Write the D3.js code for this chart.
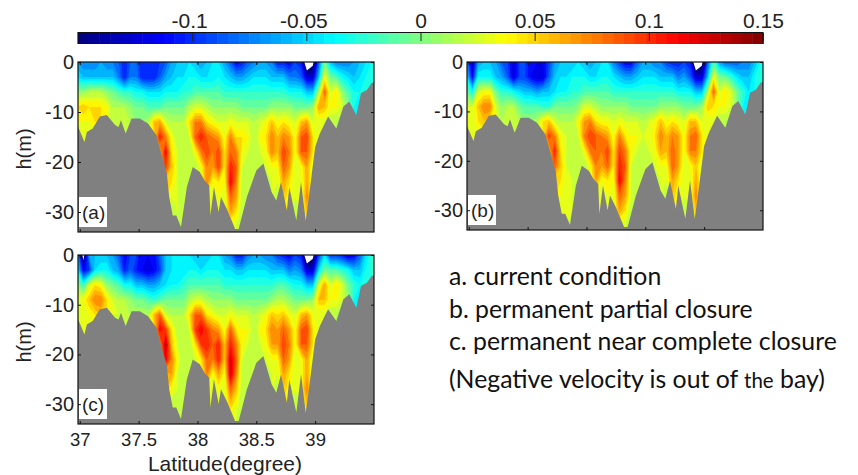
<!DOCTYPE html>
<html>
<head>
<meta charset="utf-8">
<script src="https://cdn.jsdelivr.net/npm/d3@7/dist/d3.min.js"></script>
<style>
  html, body { margin: 0; padding: 0; background: #fff; }
  svg { display: block; }
  text { font-family: "Liberation Sans", Arial, sans-serif; fill: #222; }
  .note { font-family: Lato, "Open Sans", sans-serif; fill: #111; }
</style>
</head>
<body>
<div id="chart"></div>
<script>
// depth of each row of the velocity columns (m)
const rowDepths = [0, -3, -6, -9, -12, -15, -18, -21, -24, -27, -30, -33];
// latitude of the first column and the column spacing (degree)
const firstLat = 36.98, latStep = 0.05;

// velocity in cm/s, one line per latitude column, surface first.
// short columns stop under the bed, where nothing shows.
const velA = [
  [-6,-4,1,5,4,3],[-7,-5,1,6,4,3],[-7,-5,2,5,4,3],[-7,-5,2,5,5,3],[-6,-5,2,5,5,3],
  [-7,-5,1,4,4,3],[-7,-5,0,2,2,2],[-8,-7,-1,2,3,2],[-10,-10,-2,2,3,2],[-8,-7,-2,1,2,2],
  [-8,-7,-3,0,1,2],[-10,-10,-3,0,1,2],[-10,-10,-4,-1,2,2],[-10,-10,-4,-1,6,5],[-9,-8,-4,-1,7,11,6],
  [-8,-6,-3,0,3,8,12,10,5],[-6,-5,-3,0,2,4,5,6,5,3,2],[-5,-4,-3,0,2,2,3,3,3,3,3,2],[-5,-4,-2,0,2,2,2,2,2,2,2,2],[-4,-3,-2,2,5,3,2,2,2],
  [-5,-3,-1,3,8,9,4,2,2],[-6,-4,-1,3,8,11,8,4,3],[-5,-4,-1,2,5,9,10,8,8,4],[-4,-4,-1,1,4,8,8,7,4,3,3],[-4,-3,-1,1,3,7,10,10,5,4,3],
  [-6,-4,-2,1,3,4,5,5,4,3,3],[-8,-5,-2,1,4,8,9,11,12,9,7,3],[-11,-6,-2,1,3,5,8,9,8,7,5,3],[-10,-6,-2,0,3,5,4,3,2,2,2],[-8,-5,-2,0,3,4,3,2,2],
  [-7,-4,-2,0,2,2,2,2],[-6,-4,-2,0,3,4,3,2],[-6,-4,-2,0,4,5,4,3,2],[-7,-5,-2,1,6,8,8,4,3,3],[-10,-5,-2,1,4,6,6,4,3,2],
  [-10,-5,-2,1,5,8,10,9,7,6,5],[-11,-7,-3,1,4,7,8,7,5,4,4],[-9,-7,-3,0,3,4,4,3,3,3,2,2],[-10,-8,-3,0,6,9,9,4,3,3,3,3],[-19,-12,-5,0,7,10,9,7,7,8,6,3],
  [-16,-12,-5,1,3,5,5,3,3],[-8,-5,2,7,3,3],[0,4,9,6,3,3],[-5,0,3,4,2],[-7,-1,5,4,2],
  [-7,-3,1,3,1],[-7,-4,-1,1,1],[-6,-5,-3,-3,-3],[-5,-4,-3,-4],[-4,-3,-3],[-3,-3,-3]
];
const velB = [
  [-6,-3,0,3,3,3],[-13,-11,-3,3,3,3],[-6,-3,3,6,5,3],[-5,-3,4,8,6,4],[-5,-3,4,8,5,4],
  [-6,-5,0,3,4,3],[-8,-6,-2,1,2,2],[-9,-8,-2,2,3,2],[-12,-12,-3,2,3,2],[-9,-9,-4,0,2,2],
  [-9,-9,-5,-1,1,2],[-11,-11,-5,-1,1,2],[-11,-12,-6,-1,2,2],[-11,-12,-5,-2,5,5],[-9,-8,-5,-2,6,10,6],
  [-6,-5,-4,0,3,8,11,9,5],[-5,-4,-3,0,2,4,5,6,5,4,3],[-5,-4,-3,0,2,3,3,3,3,3,3,3],[-5,-3,-2,0,2,2,2,2,3,3,3,2],[-4,-3,-2,1,4,3,2,2,2],
  [-5,-3,-1,3,7,8,4,2,2],[-6,-4,-1,3,8,10,8,4,3],[-5,-4,-1,2,5,9,9,8,7,4],[-4,-3,-1,1,4,8,8,7,4,3,3],[-4,-3,-1,1,4,7,10,9,5,4,3],
  [-7,-4,-2,1,3,4,5,5,4,3,3],[-9,-5,-2,1,4,8,10,11,12,9,7,3],[-11,-6,-2,1,3,5,8,9,8,7,5,3],[-11,-6,-2,0,3,4,4,3,3,3,2],[-8,-5,-2,0,3,4,3,2,2],
  [-6,-4,-2,0,2,3,2,2],[-6,-4,-2,0,3,3,3,2],[-7,-4,-2,0,4,5,4,3,2],[-7,-5,-2,1,6,8,7,4,3,3],[-9,-5,-2,1,4,6,6,4,3,2],
  [-10,-5,-2,1,5,8,9,9,7,6,5],[-10,-7,-3,1,4,7,7,7,5,4,4],[-9,-6,-3,0,3,4,4,3,3,3,2,2],[-10,-8,-3,0,6,8,8,4,3,3,3,3],[-19,-12,-5,0,6,9,8,6,7,8,6,3],
  [-16,-12,-5,1,3,5,5,3,3],[-8,-5,2,6,3,3],[-1,4,9,5,3,3],[-6,0,3,4,2],[-8,0,5,4,2],
  [-8,-2,3,3,1],[-8,-4,0,1,1],[-7,-5,-2,-3,-3],[-7,-5,-4,-4],[-5,-3,-3],[-3,-3,-3]
];
const velC = [
  [-5,-3,1,4,3,3],[-17,-11,-2,4,3,3],[-6,-9,3,6,4,3],[-5,-4,5,8,5,4],[-5,-3,4,8,6,4],
  [-5,-3,1,5,5,3],[-6,-5,0,3,3,2],[-8,-6,-1,2,3,2],[-11,-10,-3,2,3,2],[-9,-8,-3,1,2,2],
  [-9,-10,-5,0,2,2],[-11,-11,-5,0,2,2],[-11,-12,-6,-1,2,2],[-11,-11,-6,-2,6,5],[-8,-9,-5,-1,9,12,7],
  [-5,-5,-4,0,3,10,14,12,6],[-4,-4,-3,0,2,5,6,8,7,4,2],[-4,-4,-3,0,2,2,3,4,3,3,2,2],[-4,-4,-2,0,2,2,2,2,2,2,2,2],[-4,-3,-1,2,5,3,2,2,2],
  [-5,-3,-1,3,9,10,5,3,2],[-5,-4,-1,3,9,12,10,5,3],[-5,-3,-1,2,5,10,11,9,8,4],[-4,-3,-1,1,4,8,9,8,4,3,3],[-4,-3,-1,1,3,7,11,11,7,4,3],
  [-6,-4,-2,1,3,4,6,6,4,3,3],[-7,-4,-2,1,4,9,11,13,13,9,6,3],[-10,-5,-2,0,3,5,8,9,8,6,4,3],[-10,-5,-2,0,3,4,4,3,2,2,2],[-7,-4,-2,0,3,4,3,2,2],
  [-6,-4,-2,0,2,2,2,2],[-6,-4,-2,0,3,4,3,2],[-7,-4,-2,0,4,5,4,3,2],[-7,-5,-2,1,6,8,7,4,3,3],[-9,-5,-1,2,5,7,7,4,3,2],
  [-10,-5,-1,2,6,9,10,9,7,6,5],[-11,-7,-2,1,4,7,8,7,5,4,4],[-9,-6,-3,0,3,4,4,3,3,3,2,2],[-10,-7,-3,0,6,9,9,4,4,4,3,3],[-19,-12,-5,0,7,10,9,7,7,8,6,3],
  [-16,-12,-5,1,4,5,5,3,3],[-9,-4,3,6,3,3],[-4,0,7,6,3,3],[-9,-1,3,4,2],[-9,-1,5,4,2],
  [-10,-2,3,3,1],[-12,-3,0,1,1],[-11,-5,-2,-3,-3],[-8,-5,-3,-4],[-4,-3,-3],[-2,-2,-2]
];

// sea bed
const bedLat = [36.98,37.01,37.04,37.06,37.11,37.17,37.23,37.30,37.33,37.35,37.39,37.44,37.51,37.58,37.65,37.71,37.74,37.76,37.79,37.82,37.86,37.91,37.96,38.02,38.06,38.10,38.11,38.14,38.18,38.20,38.25,38.32,38.35,38.42,38.50,38.56,38.63,38.67,38.71,38.76,38.78,38.84,38.88,38.92,38.95,39.00,39.04,39.11,39.18,39.24,39.29,39.35,39.39,39.44,39.48,39.50];
const bedDepth = [-12.6,-14.3,-16,-14,-13.3,-10.9,-10.6,-12.6,-13,-11.6,-14.3,-11.3,-11.3,-12.3,-14.6,-19.7,-22.3,-27,-30.7,-30.7,-33,-25,-21,-22,-23.7,-24.7,-30.7,-25,-30,-27,-29.4,-33.4,-33.4,-27,-21.7,-20.3,-26,-27.7,-24,-29.7,-25,-31.7,-24,-31.7,-26.4,-17,-14.3,-10.9,-13.3,-8.9,-7.9,-10.6,-6.2,-5.6,-4.2,-4];

const depthTicks = [0, -10, -20, -30];
const latTicks = [37, 37.5, 38, 38.5, 39];
const colorTicks = [-0.1, -0.05, 0, 0.05, 0.1, 0.15];
const notes = ["a. current condition", "b. permanent partial closure", "c. permanent near complete closure"];

const W = 858, H = 475;
const svg = d3.select("#chart").append("svg").attr("width", W).attr("height", H);

// jet colormap over the colorbar range
const jet = t => {
  const c = v => Math.round(255 * Math.max(0, Math.min(1, 1.5 - Math.abs(4 * t - v))));
  return d3.rgb(c(3), c(2), c(1)).formatHex();
};
const colorDomain = [-0.15, 0.15];
const colorPos = d3.scaleLinear().domain(colorDomain).range([0, 1]);

// colorbar
const cbX = d3.scaleLinear().domain(colorDomain).range([78, 763]);
const cbBands = d3.range(64);
const cb = svg.append("g");
cb.selectAll("rect").data(cbBands).enter().append("rect")
  .attr("x", d => cbX.range()[0] + d * 685 / 64)
  .attr("y", 33)
  .attr("width", 685 / 64 + 0.5)
  .attr("height", 11)
  .attr("fill", d => jet((d + 0.5) / 64));
cb.append("path").attr("d", "M78,44V32.5H763V44").attr("fill", "none").attr("stroke", "#111").attr("stroke-width", 1.2);
const cbAxis = svg.append("g").attr("transform", "translate(0,33)")
  .call(d3.axisTop(cbX).tickValues(colorTicks).tickFormat(d => String(d)).tickSize(-8).tickPadding(5));
cbAxis.select(".domain").remove();
cbAxis.selectAll("line").attr("stroke", "#222");
cbAxis.selectAll("text").attr("font-size", 21).attr("dx", d => d < 0 ? -3 : 0);

function panel(cfg) {
  const x = d3.scaleLinear().domain([36.985, 39.5]).range([cfg.x0, cfg.x1]);
  const y = d3.scaleLinear().domain([-34, 0]).range([cfg.y1, cfg.y0]);
  const g = svg.append("g");
  const clipId = "clip-" + cfg.name;
  g.append("clipPath").attr("id", clipId).append("rect")
    .attr("x", cfg.x0).attr("y", cfg.y0).attr("width", cfg.x1 - cfg.x0).attr("height", cfg.y1 - cfg.y0);

  // flatten the columns into the row-major grid d3.contours wants
  const nCol = cfg.vel.length, nRow = rowDepths.length;
  const grid = new Array(nCol * nRow);
  cfg.vel.forEach((col, i) => {
    rowDepths.forEach((_, j) => {
      grid[i + j * nCol] = (j < col.length ? col[j] : col[col.length - 1]) / 100;
    });
  });

  // filled bands take the colour of their lower level, as contourf does
  const levels = d3.range(-15, 15).map(d => d / 100);
  const contours = d3.contours().size([nCol, nRow]).thresholds(levels)(grid);
  const dz = rowDepths[1] - rowDepths[0];
  const path = d3.geoPath(d3.geoTransform({
    point(px, py) {
      this.stream.point(x(firstLat + (px - 0.5) * latStep), y((py - 0.5) * dz));
    }
  }));
  const field = g.append("g").attr("clip-path", "url(#" + clipId + ")");
  field.selectAll("path").data(contours).enter().append("path")
    .attr("d", path)
    .attr("fill", d => jet(colorPos(d.value)));

  // grey bed on top
  const area = d3.area().x(d => x(d[0])).y0(cfg.y1).y1(d => y(d[1]));
  field.append("path").datum(d3.zip(bedLat, bedDepth)).attr("d", area).attr("fill", "#808080");

  // panel letter
  g.append("rect").attr("x", cfg.x0 + 1).attr("y", cfg.y1 - 35).attr("width", 28).attr("height", 30).attr("fill", "#fff");
  g.append("text").attr("x", cfg.x0 + 4).attr("y", cfg.y1 - 13).attr("font-size", 19).text(cfg.letter);

  // axes, ticks inward on all sides like matlab
  const left = g.append("g").attr("transform", "translate(" + cfg.x0 + ",0)")
    .call(d3.axisLeft(y).tickValues(depthTicks).tickFormat(d => String(d)).tickSize(-3).tickPadding(4));
  const right = g.append("g").attr("transform", "translate(" + cfg.x1 + ",0)")
    .call(d3.axisRight(y).tickValues(depthTicks).tickFormat("").tickSize(-3));
  const bottom = g.append("g").attr("transform", "translate(0," + cfg.y1 + ")")
    .call(d3.axisBottom(x).tickValues(latTicks).tickFormat(cfg.xLabels ? (d => String(d)) : "").tickSize(-3).tickPadding(9));
  const top = g.append("g").attr("transform", "translate(0," + cfg.y0 + ")")
    .call(d3.axisTop(x).tickValues(latTicks).tickFormat("").tickSize(-3));
  [left, right, bottom, top].forEach(a => {
    a.select(".domain").remove();
    a.selectAll("line").attr("stroke", "#111");
  });
  left.selectAll("text").attr("font-size", 20);
  bottom.selectAll("text").attr("font-size", 18.5);
  g.append("rect").attr("x", cfg.x0).attr("y", cfg.y0).attr("width", cfg.x1 - cfg.x0).attr("height", cfg.y1 - cfg.y0)
    .attr("fill", "none").attr("stroke", "#111").attr("stroke-width", 1.2);

  if (cfg.yLabel) {
    g.append("text").attr("transform", "translate(31," + (cfg.y0 + 87) + ") rotate(-90)")
      .attr("text-anchor", "middle").attr("font-size", 20).text("h(m)");
  }
  if (cfg.xLabels) {
    g.append("text").attr("x", 225).attr("y", 471).attr("text-anchor", "middle").attr("font-size", 21).text("Latitude(degree)");
  }
}

panel({ name: "a", letter: "(a)", vel: velA, x0: 78, x1: 374, y0: 62, y1: 232, yLabel: true });
panel({ name: "b", letter: "(b)", vel: velB, x0: 467, x1: 763, y0: 62, y1: 230 });
panel({ name: "c", letter: "(c)", vel: velC, x0: 78, x1: 374, y0: 255, y1: 424, yLabel: true, xLabels: true });

// notes on the right
const noteY = [285, 318, 350, 388];
svg.selectAll(".note").data(notes).enter().append("text")
  .attr("class", "note")
  .attr("x", 449)
  .attr("y", (d, i) => noteY[i])
  .attr("font-size", 24.8)
  .text(d => d);
// the "the" in the last line is a size smaller in the original
const last = svg.append("text").attr("class", "note").attr("x", 449).attr("y", noteY[3]).attr("font-size", 24.8);
last.append("tspan").text("(Negative velocity is out of ");
last.append("tspan").attr("font-size", 20.5).text("the");
last.append("tspan").text(" bay)");
</script>
</body>
</html>
